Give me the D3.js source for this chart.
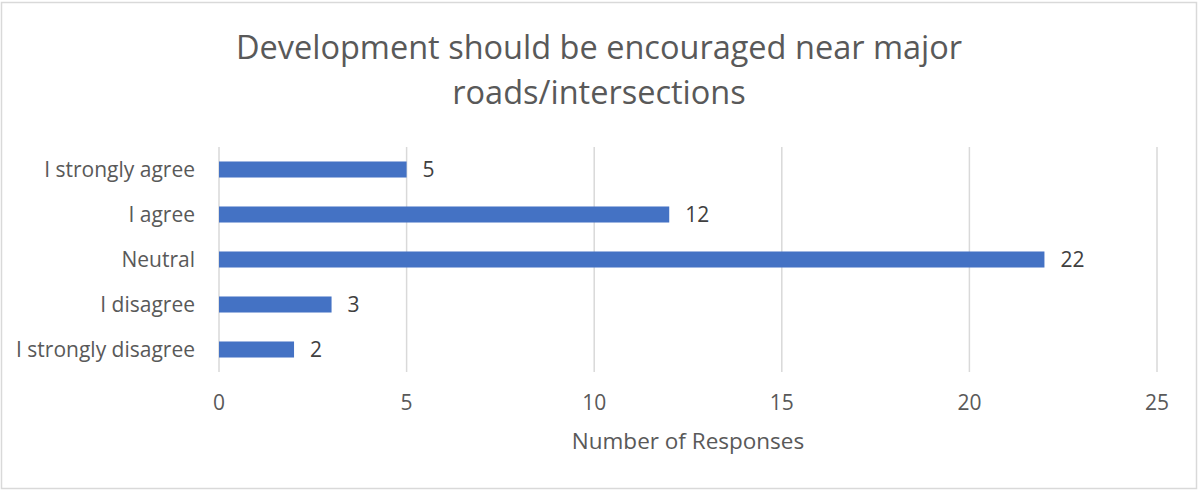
<!DOCTYPE html>
<html><head><meta charset="utf-8">
<script src="https://cdn.jsdelivr.net/npm/d3@7"></script>
<style>body{margin:0;background:#fff}svg{display:block}</style>
</head><body><svg id="c" width="1198" height="491"></svg>
<script>
const categories = ["I strongly agree","I agree","Neutral","I disagree","I strongly disagree"];
const values = [5,12,22,3,2];
const xTicks = [0,5,10,15,20,25];
const titleLines = ["Development should be encouraged near major","roads/intersections"];
const xTitle = "Number of Responses";

const svg = d3.select("#c");
const font = "'Open Sans', sans-serif";
svg.append("rect").attr("x",1.5).attr("y",2.5).attr("width",1195).attr("height",486)
  .attr("fill","#fff").attr("stroke","#d9d9d9").attr("stroke-width",1.5);

const x = d3.scaleLinear().domain([0,25]).range([219,1157]);
const y = d3.scaleBand().domain(categories).range([147,372]).paddingInner(0.644).paddingOuter(0.322);

svg.append("g").selectAll("line").data(xTicks).join("line")
  .attr("x1",d=>x(d)).attr("x2",d=>x(d)).attr("y1",147).attr("y2",372)
  .attr("stroke","#d9d9d9").attr("stroke-width",1.5);

svg.append("g").selectAll("rect").data(values).join("rect")
  .attr("x",x(0)).attr("y",(d,i)=>y(categories[i])).attr("width",d=>x(d)-x(0)).attr("height",y.bandwidth())
  .attr("fill","#4472C4");

svg.append("g").selectAll("text").data(values).join("text")
  .attr("x",d=>x(d)+16).attr("y",(d,i)=>y(categories[i])+y.bandwidth()/2).attr("dy","0.35em")
  .attr("font-family",font).attr("font-size",21).attr("fill","#404040").text(d=>d);

svg.append("g").selectAll("text").data(categories).join("text")
  .attr("x",195).attr("y",d=>y(d)+y.bandwidth()/2).attr("dy","0.35em").attr("text-anchor","end")
  .attr("font-family",font).attr("font-size",21).attr("fill","#595959").text(d=>d);

svg.append("g").selectAll("text").data(xTicks).join("text")
  .attr("x",d=>x(d)).attr("y",403).attr("dy","0.35em").attr("text-anchor","middle")
  .attr("font-family",font).attr("font-size",21).attr("fill","#595959").text(d=>d);

svg.append("text").attr("x",688).attr("y",441).attr("dy","0.35em").attr("text-anchor","middle")
  .attr("font-family",font).attr("font-size",22.5).attr("fill","#595959").text(xTitle);

svg.append("g").selectAll("text").data(titleLines).join("text")
  .attr("x",599).attr("y",(d,i)=>48+i*45).attr("dy","0.35em").attr("text-anchor","middle")
  .attr("font-family",font).attr("font-size",32.5).attr("fill","#595959").text(d=>d);
</script></body></html>
